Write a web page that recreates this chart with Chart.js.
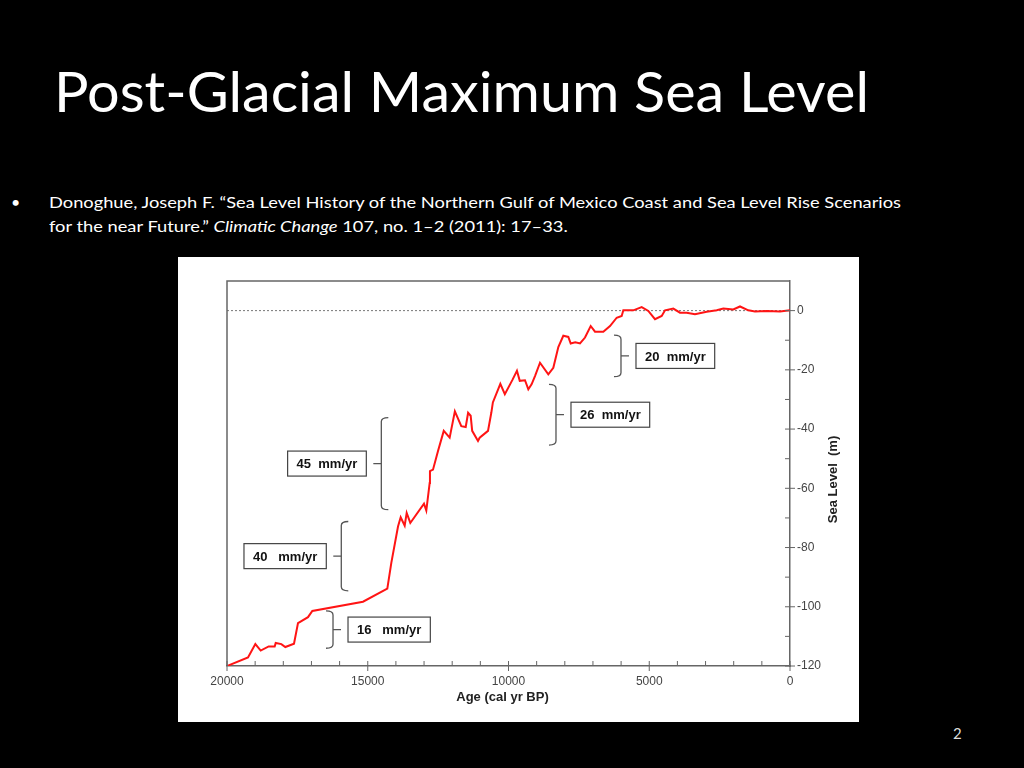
<!DOCTYPE html>
<html>
<head>
<meta charset="utf-8">
<script src="https://cdn.jsdelivr.net/npm/chart.js@4.4.1/dist/chart.umd.min.js"></script>
<style>
  body { margin: 0; width: 1024px; height: 768px; background: #000; overflow: hidden; position: relative; font-family: Lato, "Noto Sans", sans-serif; color: #fff; }
  #title { position: absolute; left: 54px; top: 63px; font-size: 56px; line-height: 1; white-space: nowrap; transform-origin: left top; }
  #cite { position: absolute; left: 49px; top: 190px; font-size: 16px; line-height: 24px; white-space: nowrap; transform-origin: left top; }
  #bullet { position: absolute; left: 11px; top: 190px; font-size: 16px; line-height: 24px; }
  #page { position: absolute; left: 953px; top: 724px; font-size: 15px; color: #ddd; }
  #box { position: absolute; left: 178px; top: 257px; width: 681px; height: 465px; background: #fff; }
</style>
</head>
<body>
<div id="title">Post-Glacial Maximum Sea Level</div>
<div id="bullet">•</div>
<div id="cite"><span id="l1">Donoghue, Joseph F. “Sea Level History of the Northern Gulf of Mexico Coast and Sea Level Rise Scenarios</span><br>for the near Future.” <i>Climatic Change</i> 107, no. 1–2 (2011): 17–33.</div>
<div id="page">2</div>
<div id="box"><canvas id="chart" width="681" height="465"></canvas></div>

<script>
// age in cal yr BP, sea level in m
const ages = [20000, 19254, 18993, 18803, 18519, 18306, 18270, 18070, 17928, 17620, 17478, 17123, 16969,
  15169, 14305, 14163, 13925, 13830, 13688, 13617, 13488, 13002, 12920, 12800, 12790, 12682, 12504,
  12300, 12090, 11905, 11677, 11520, 11435, 11344, 11290, 11084, 11024, 10728, 10611, 10555, 10290,
  10130, 9860, 9700, 9600, 9414, 9296, 9180, 9059, 8881, 8586, 8408, 8230, 8053, 7875, 7790, 7630,
  7460, 7282, 7080, 6927, 6632, 6394, 6157, 5979, 5921, 5566, 5269, 5033, 4796, 4558, 4440, 4145,
  3908, 3670, 3375, 2959, 2604, 2369, 2014, 1776, 1481, 1243, 828, 355, 0];
const seaLevel = [-120, -117.1, -112.6, -114.8, -113.4, -113.4, -112.2, -112.6, -113.6, -112.5, -105.5, -103.5, -101.4,
  -98.3, -93.9, -85.2, -72.9, -69.8, -72.6, -68.3, -71.7, -65.2, -67.5, -58.2, -54.2, -53.7, -47.4,
  -40.6, -42.9, -34.0, -39, -39.3, -34.5, -35.5, -40.6, -44, -42.9, -40.6, -34.5, -31, -24.7,
  -28.2, -23.4, -20.3, -23.7, -23.5, -26.6, -24.9, -22.1, -17.6, -21.5, -19.3, -12.3, -8.5, -8.9, -11.1, -10.7,
  -11.1, -9.1, -5.2, -7.1, -7.1, -5.2, -2.4, -1.8, 0.1, 0.1, 1.2, -0.1, -2.9, -1.8, 0.1, 0.7,
  -0.7, -0.7, -1.2, -0.4, 0.1, 0.7, 0.4, 1.4, 0.1, -0.3, -0.1, -0.3, 0.1];

const xLabels = [20000, 15000, 10000, 5000, 0];
const yLabels = [0, -20, -40, -60, -80, -100, -120];

// rate brackets: label, bracket age, top/bottom level, side of the box
const rateLabels = ['20  mm/yr', '26  mm/yr', '45  mm/yr', '40   mm/yr', '16   mm/yr'];
const rateAge = [6004, 8313, 14518, 15940, 16234];
const rateTop = [-8.3, -24.9, -36.1, -71.2, -101.4];
const rateBottom = [-22.3, -45.4, -67.2, -94.6, -114];
const rateSide = ['right', 'right', 'left', 'left', 'right'];

// fit slide text to the widths in the picture
function fit(el, w) {
  const r = el.getBoundingClientRect().width;
  return w / r;
}
const title = document.getElementById('title');
title.style.transform = 'scaleX(' + fit(title, 815) + ')';
const cite = document.getElementById('cite');
cite.style.transform = 'scaleX(' + fit(document.getElementById('l1'), 852) + ')';

const axisColor = '#666';
const boldFont = 'bold 13px Arial, "Liberation Sans", sans-serif';

const framePlugin = {
  id: 'frame',
  afterDraw(chart) {
    const { ctx, chartArea: a, scales: { x, y } } = chart;
    ctx.save();
    ctx.strokeStyle = axisColor;
    ctx.lineWidth = 1.5;
    ctx.beginPath();
    ctx.moveTo(a.left, a.bottom);
    ctx.lineTo(a.left, a.top);
    ctx.lineTo(a.right, a.top);
    ctx.stroke();

    // tick marks: minor inside only, labelled ones cross the axis
    ctx.lineWidth = 1;
    ctx.beginPath();
    x.ticks.forEach(t => {
      const px = x.getPixelForValue(t.value);
      const major = xLabels.includes(t.value);
      ctx.moveTo(px, a.bottom - 5);
      ctx.lineTo(px, a.bottom + (major ? 5 : 0));
    });
    y.ticks.forEach(t => {
      if (t.value > 0) return;
      const py = y.getPixelForValue(t.value);
      const major = yLabels.includes(t.value);
      ctx.moveTo(a.right - 5, py);
      ctx.lineTo(a.right + (major ? 5 : 0), py);
    });
    ctx.stroke();

    // axis titles
    ctx.fillStyle = '#222';
    ctx.font = boldFont;
    ctx.textAlign = 'center';
    ctx.textBaseline = 'middle';
    ctx.fillText('Age (cal yr BP)', (a.left + a.right) / 2 - 6, a.bottom + 31);
    ctx.translate(a.right + 43, (a.top + a.bottom) / 2 + 6);
    ctx.rotate(-Math.PI / 2);
    ctx.fillText('Sea Level  (m)', 0, 0);
    ctx.restore();

    // rate brackets and boxes
    ctx.save();
    ctx.font = boldFont;
    ctx.textBaseline = 'middle';
    ctx.textAlign = 'left';
    rateLabels.forEach((label, i) => {
      const bx = x.getPixelForValue(rateAge[i]);
      const t = y.getPixelForValue(rateTop[i]);
      const b = y.getPixelForValue(rateBottom[i]);
      const m = (t + b) / 2;
      const dir = rateSide[i] === 'right' ? 1 : -1;
      ctx.strokeStyle = '#555';
      ctx.lineWidth = 1.3;
      ctx.beginPath();
      ctx.moveTo(bx - dir * 7, t);
      ctx.quadraticCurveTo(bx, t, bx, t + 4);
      ctx.lineTo(bx, b - 4);
      ctx.quadraticCurveTo(bx, b, bx - dir * 7, b);
      ctx.moveTo(bx, m);
      ctx.lineTo(bx + dir * 8, m);
      ctx.stroke();

      const tw = ctx.measureText(label).width;
      const w = tw + 18, h = 25;
      const left = dir > 0 ? bx + 15 : bx - 15 - w;
      ctx.fillStyle = '#fff';
      ctx.fillRect(left, m - h / 2, w, h);
      ctx.strokeStyle = '#444';
      ctx.lineWidth = 1.2;
      ctx.strokeRect(left, m - h / 2, w, h);
      ctx.fillStyle = '#111';
      ctx.fillText(label, left + 9, m + 1);
    });
    ctx.restore();
  }
};

const tickFont = { family: 'Arial, "Liberation Sans", sans-serif', size: 12 };

new Chart(document.getElementById('chart'), {
  type: 'line',
  data: {
    datasets: [
      {
        data: ages.map((a, i) => ({ x: a, y: seaLevel[i] })),
        borderColor: '#ff1414',
        borderWidth: 2,
        pointRadius: 0,
        tension: 0
      },
      {
        data: [{ x: 20000, y: 0 }, { x: 0, y: 0 }],
        borderColor: '#777',
        borderWidth: 1,
        borderDash: [2, 2],
        pointRadius: 0
      }
    ]
  },
  options: {
    responsive: false,
    animation: false,
    layout: { padding: { left: 49, top: 24, right: 0, bottom: 0 } },
    plugins: { legend: { display: false }, tooltip: { enabled: false } },
    scales: {
      x: {
        type: 'linear',
        reverse: true,
        min: 0,
        max: 20000,
        afterFit: s => { s.height = 56; },
        grid: { display: false, drawTicks: true, tickLength: 5 },
        border: { display: true, color: axisColor, width: 1.5 },
        ticks: {
          stepSize: 1000,
          autoSkip: false,
          maxRotation: 0,
          padding: 3,
          color: '#444',
          font: tickFont,
          callback: v => xLabels.includes(v) ? String(v) : ''
        }
      },
      y: {
        position: 'right',
        min: -120,
        max: 10,
        afterFit: s => { s.width = 69; },
        grid: { display: false, drawTicks: true, tickLength: 5 },
        border: { display: true, color: axisColor, width: 1.5 },
        ticks: {
          stepSize: 10,
          autoSkip: false,
          padding: 2,
          color: '#444',
          font: tickFont,
          callback: v => yLabels.includes(v) ? String(v) : ''
        }
      }
    }
  },
  plugins: [framePlugin]
});
</script>
</body>
</html>
